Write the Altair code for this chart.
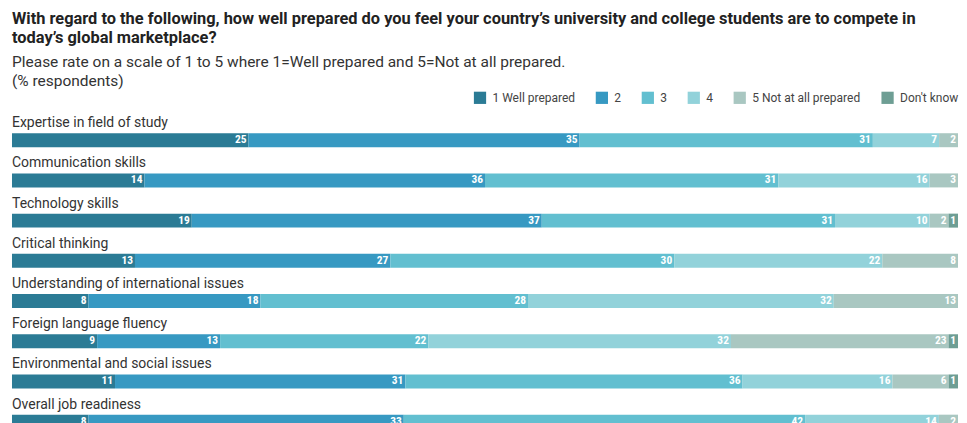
import altair as alt
import pandas as pd

categories = [
    "Expertise in field of study",
    "Communication skills",
    "Technology skills",
    "Critical thinking",
    "Understanding of international issues",
    "Foreign language fluency",
    "Environmental and social issues",
    "Overall job readiness",
]
ratings = ["1 Well prepared", "2", "3", "4", "5 Not at all prepared", "Don't know"]
colors = ["#2b7b95", "#3799c2", "#62bfd0", "#92d2da", "#a9c7c1", "#6e9e94"]

r1 = [25, 14, 19, 13, 8, 9, 11, 8]
r2 = [35, 36, 37, 27, 18, 13, 31, 33]
r3 = [31, 31, 31, 30, 28, 22, 36, 42]
r4 = [7, 16, 10, 22, 32, 32, 16, 14]
r5 = [2, 3, 2, 8, 13, 23, 6, 2]
dk = [0, 0, 1, 0, 0, 1, 1, 0]

series = [r1, r2, r3, r4, r5, dk]

rows = []
for i, cat in enumerate(categories):
    vals = [s[i] for s in series]
    total = sum(vals)
    cum = 0
    for k, (rat, v) in enumerate(zip(ratings, vals)):
        start = cum / total * 100
        cum += v
        end = cum / total * 100
        rows.append({"category": cat, "rating": rat, "order": k, "value": v,
                     "start": start, "end": end})
df = pd.DataFrame(rows)
cat_df = pd.DataFrame({"category": categories})

NARROW = "Liberation Sans Narrow, Roboto Condensed, Roboto, sans-serif"
FONT = "Roboto, Open Sans, sans-serif"

y_enc = alt.Y("category:N", sort=categories, axis=None,
              scale=alt.Scale(paddingInner=0, paddingOuter=0))
x_scale = alt.Scale(domain=[0, 100], nice=False, zero=True)

bars = alt.Chart(df).mark_bar(size=14, yOffset=5).encode(
    x=alt.X("start:Q", scale=x_scale, axis=None),
    x2="end:Q",
    y=y_enc,
    color=alt.Color(
        "rating:N",
        scale=alt.Scale(domain=ratings, range=colors),
        legend=alt.Legend(
            orient="none", legendX=462, legendY=-24, direction="horizontal",
            title=None, symbolType="square", symbolSize=150, symbolStrokeWidth=0,
            labelFont=FONT, labelFontSize=12, labelColor="#444", labelOffset=6,
            columnPadding=20,
        ),
    ),
    order="order:Q",
)

values = alt.Chart(df).transform_filter("datum.value > 0").mark_text(
    align="right", baseline="middle", dx=-2, yOffset=5, color="white",
    fontWeight="bold", fontSize=11.5, font=NARROW,
).encode(
    x=alt.X("end:Q", scale=x_scale, axis=None),
    y=y_enc,
    text="value:Q",
)

labels = alt.Chart(cat_df).mark_text(
    align="left", baseline="middle", yOffset=-12, fontSize=14, font=FONT,
    color="#333",
).encode(
    x=alt.value(0),
    y=y_enc,
    text="category:N",
)

chart = alt.layer(bars, values, labels).properties(
    width=947,
    height=322,
    padding={"left": 4, "right": 0, "top": 3, "bottom": 0},
    title=alt.Title(
        text=["With regard to the following, how well prepared do you feel your country’s university and college students are to compete in",
              "today’s global marketplace?"],
        subtitle=["Please rate on a scale of 1 to 5 where 1=Well prepared and 5=Not at all prepared.",
                  "(% respondents)"],
        anchor="start", font=FONT, fontSize=16.4, fontWeight="bold", color="#222",
        lineHeight=19, subtitleFont=FONT, subtitleFontSize=15.5, subtitleColor="#333",
        subtitleLineHeight=19, subtitlePadding=8, offset=2,
    ),
).configure_view(stroke=None)

chart.save("out.html", embed_options={"renderer": "svg", "actions": False})
